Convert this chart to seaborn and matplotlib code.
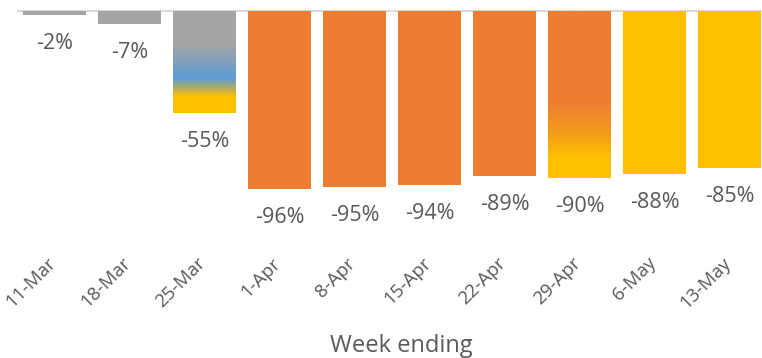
import numpy as np
import pandas as pd
import matplotlib
matplotlib.use("Agg")
import matplotlib.pyplot as plt
from matplotlib.colors import to_rgba
from matplotlib.transforms import ScaledTranslation
import seaborn as sns

# Weekly change versus baseline
weeks = ["11-Mar", "18-Mar", "25-Mar", "1-Apr", "8-Apr", "15-Apr",
         "22-Apr", "29-Apr", "6-May", "13-May"]
change = [-0.02, -0.07, -0.55, -0.96, -0.95, -0.94, -0.89, -0.90, -0.88, -0.85]
labels = ["-2%", "-7%", "-55%", "-96%", "-95%", "-94%", "-89%", "-90%", "-88%", "-85%"]

GREY = "#A5A5A5"
BLUE = "#5B9BD5"
ORANGE = "#ED7D31"
GOLD = "#FFC000"
TEXT = "#595959"

bar_colors = [GREY, GREY, GREY, ORANGE, ORANGE, ORANGE, ORANGE, ORANGE, GOLD, GOLD]

# Vertical gradient stops (fraction along the bar from its top, colour)
gradients = {
    "25-Mar": [(0.0, GREY), (0.33, GREY), (0.66, BLUE), (0.84, GOLD), (1.0, GOLD)],
    "29-Apr": [(0.0, ORANGE), (0.54, ORANGE), (0.72, "#F39A1E"), (0.88, GOLD), (1.0, GOLD)],
}

plt.rcParams["font.family"] = ["Open Sans", "DejaVu Sans"]

df = pd.DataFrame({"week": weeks, "change": change})

fig = plt.figure(figsize=(7.62, 3.58), dpi=100)
ax = fig.add_axes([17 / 762, 1 - 250 / 358, 750 / 762, 240 / 358])

sns.barplot(data=df, x="week", y="change", hue="week", palette=bar_colors,
            legend=False, width=0.84, saturation=1, ax=ax)

px_per_unit = 186
ax.set_xlim(-0.5, len(weeks) - 0.5)
ax.set_ylim(-240 / px_per_unit, 1 / px_per_unit)

# Gradient fills clipped to the bar shapes
for patch, week in zip(ax.patches, weeks):
    if week in gradients:
        stops = gradients[week]
        t = np.linspace(0, 1, 256)
        pos = [s[0] for s in stops]
        cols = np.array([to_rgba(s[1]) for s in stops])
        img = np.stack([np.interp(t, pos, cols[:, k]) for k in range(4)], axis=1)[:, None, :]
        x0, w = patch.get_x(), patch.get_width()
        y0, h = patch.get_y(), patch.get_height()
        top, bottom = max(y0, y0 + h), min(y0, y0 + h)
        im = ax.imshow(img, extent=(x0, x0 + w, bottom, top), origin="upper",
                       aspect="auto", zorder=patch.get_zorder() + 0.1,
                       interpolation="bilinear")
        im.set_clip_path(patch)

ax.set_xlim(-0.5, len(weeks) - 0.5)
ax.set_ylim(-240 / px_per_unit, 1 / px_per_unit)

# Zero line
ax.axhline(0, color="#D9D9D9", lw=1.5, zorder=0.5)

# Value labels under each bar
for i, (v, lab) in enumerate(zip(change, labels)):
    ax.annotate(lab, (i, v), xytext=(0, -13), textcoords="offset points",
                ha="center", va="top", fontsize=15.5, color=TEXT)

for s in ax.spines.values():
    s.set_visible(False)
ax.set_yticks([])
ax.set_ylabel("")
ax.tick_params(axis="x", length=0, pad=10, labelsize=13.5, labelcolor=TEXT)
shift = ScaledTranslation(2 / 100, 0, fig.dpi_scale_trans)
for tl in ax.get_xticklabels():
    tl.set_rotation(45)
    tl.set_ha("right")
    tl.set_va("baseline")
    tl.set_rotation_mode("anchor")
    tl.set_transform(tl.get_transform() + shift)
ax.set_xlabel("Week ending", fontsize=17, color=TEXT)
ax.xaxis.set_label_coords(0.513, -0.35)
ax.xaxis.label.set_va("top")

fig.savefig("out.png", dpi=100)
